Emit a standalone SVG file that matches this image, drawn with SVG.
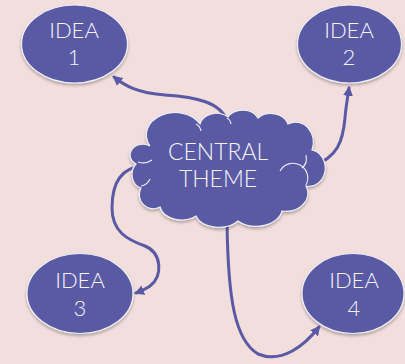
<svg xmlns="http://www.w3.org/2000/svg" width="405" height="364" viewBox="0 0 405 364">
  <style>
    .bg { fill: #f2dedd; }
    .node { fill: #5a5aa4; stroke: #eeeef6; stroke-width: 1.2; filter: url(#shadow); }
    .curl { fill: none; stroke: #eeeef6; stroke-width: 1.1; }
    .label { font-family: "Lato", "Open Sans", "Liberation Sans", sans-serif; font-weight: 300; fill: #f4f4fa; text-anchor: middle; }
    .idea { font-size: 22px; }
    .theme { font-size: 23px; }
    .link { fill: none; stroke: #5a5aa4; stroke-width: 3; stroke-linecap: round; marker-end: url(#arrow); }
  </style>
  <defs>
    <filter id="shadow" x="-20%" y="-20%" width="140%" height="150%">
      <feDropShadow dx="0" dy="2" stdDeviation="1.5" flood-color="#000" flood-opacity="0.28"/>
    </filter>
    <marker id="arrow" viewBox="0 0 10 10" refX="8" refY="5" markerWidth="10" markerHeight="10" markerUnits="userSpaceOnUse" orient="auto">
      <path d="M0,0 L10,5 L0,10 z" fill="#5a5aa4"/>
    </marker>
  </defs>

  <rect class="bg" x="0" y="0" width="405" height="364"/>

  <!-- connectors from the central cloud to each idea -->
  <g id="connectors">
    <path class="link" d="M227,122 C222,102 195,97 165,95 C138,93 125,86 114,77"/>
    <path class="link" d="M312,166 C338,158 343,140 345,118 C346,105 348,96 349,88"/>
    <path class="link" d="M142,166 C120,168 112,185 112,208 C112,232 128,240 145,246 C162,253 163,276 150,286 C146,289 141,291 136,293"/>
    <path class="link" d="M227,222 C228,300 235,340 258,354 C282,364 305,345 319,327"/>
  </g>

  <g id="idea1">
    <ellipse class="node" cx="74.5" cy="44" rx="53" ry="39"/>
    <text class="label idea" x="74" y="38">IDEA</text>
    <text class="label idea" x="74" y="65">1</text>
  </g>

  <g id="idea2">
    <ellipse class="node" cx="349.5" cy="44" rx="52" ry="39"/>
    <text class="label idea" x="349" y="38">IDEA</text>
    <text class="label idea" x="349" y="65">2</text>
  </g>

  <g id="idea3">
    <ellipse class="node" cx="80" cy="293.5" rx="53" ry="40"/>
    <text class="label idea" x="80" y="288">IDEA</text>
    <text class="label idea" x="80" y="316">3</text>
  </g>

  <g id="idea4">
    <ellipse class="node" cx="353" cy="293.5" rx="51" ry="40"/>
    <text class="label idea" x="354" y="288">IDEA</text>
    <text class="label idea" x="354" y="316">4</text>
  </g>

  <g id="central">
    <path class="node" d="M150,146
      A28,22 0 0 1 200,124
      A17,14 0 0 1 228,117
      A17,14 0 0 1 258,118
      A18,15 0 0 1 288,124
      A18,20 0 0 1 312,150
      A16,18 0 0 1 306,186
      A22,18 0 0 1 282,211
      A26,18 0 0 1 238,221
      A24,16 0 0 1 196,216
      A22,16 0 0 1 160,207
      A14,14 0 0 1 141,188
      A12,14 0 0 1 136,164
      A12,10 0 0 1 150,146 z"/>
    <path class="curl" d="M138,162 A14,12 0 0 0 152,160"/>
    <path class="curl" d="M141,186 A12,12 0 0 0 150,179"/>
    <path class="curl" d="M196,124 A10,10 0 0 1 201,131"/>
    <path class="curl" d="M227,118 A8,8 0 0 1 231,124"/>
    <path class="curl" d="M306,155 A10,12 0 0 1 302,168"/>
    <path class="curl" d="M306,185 A14,14 0 0 0 280,171"/>
  </g>
  <g id="central-label">
    <text class="label theme" x="218" y="160">CENTRAL</text>
    <text class="label theme" x="218" y="187">THEME</text>
  </g>
</svg>
